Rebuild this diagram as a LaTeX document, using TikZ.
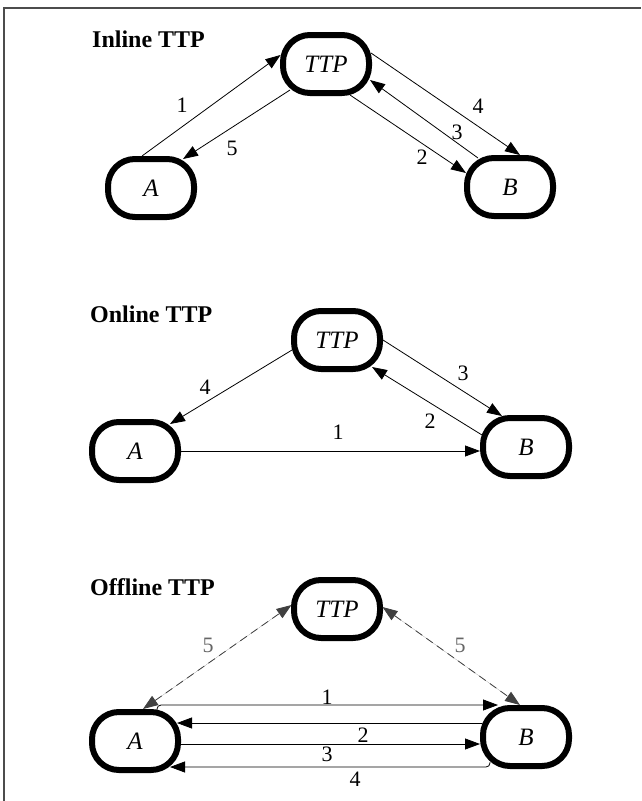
\documentclass[tikz,border=0pt]{standalone}
\usepackage{fontspec}
\setmainfont{Liberation Serif}
\usetikzlibrary{arrows.meta, calc}
\tikzset{
  party/.style={rectangle,draw,rounded corners=27pt,line width=6pt,minimum width=86pt,minimum height=58pt,inner sep=0pt,font=\fontsize{25}{25}\selectfont\itshape},
  heading/.style={anchor=base west,inner sep=0pt,font=\fontsize{24}{24}\selectfont\bfseries},
  num/.style={inner sep=0pt,font=\fontsize{22}{22}\selectfont},
  line/.style={-{Triangle[length=15pt,width=11pt]},line width=0.8pt},
  dline/.style={{Triangle[length=15pt,width=11pt]}-{Triangle[length=15pt,width=11pt]},line width=0.8pt,dash pattern=on 8pt off 5pt,draw=black!75,fill=black!75}
}

\begin{document}
\begin{tikzpicture}[x=1pt,y=-1pt]
\useasboundingbox (0,0) rectangle (641,801);
\draw[line width=1.2pt,black!70] (4,801) -- (4,8) -- (641,8);

% inline
\node[heading] (h1) at (92,47) {Inline TTP};
\node[party] (ttp1) at (326,64) {TTP};
\node[party] (a1) at (151,188) {A};
\node[party] (b1) at (510,187) {B};
\draw[line] ($(a1)+(-9,-32)$) -- ($(ttp1)+(-45.5,-9)$) node[num] (n11) at (182,105) {1};
\draw[line] ($(ttp1)+(-36,26)$) -- ($(a1)+(32,-29)$) node[num] (n15) at (232,148) {5};
\draw[line] ($(ttp1)+(24,31)$) -- ($(b1)+(-44,-14)$) node[num] (n12) at (422,157) {2};
\draw[line] ($(b1)+(-32,-29)$) -- ($(ttp1)+(44,16)$) node[num] (n13) at (457,132) {3};
\draw[line] ($(ttp1)+(45,-11)$) -- ($(b1)+(10,-32)$) node[num] (n14) at (478,106) {4};

% online
\node[heading] (h2) at (90,322) {Online TTP};
\node[party] (ttp2) at (337,340) {TTP};
\node[party] (a2) at (135,451) {A};
\node[party] (b2) at (526,447) {B};
\draw[line] ($(ttp2)+(-45,10)$) -- ($(a2)+(35,-27)$) node[num] (n24) at (205,387) {4};
\draw[line] (a2.east) -- (a2.east -| b2.west) node[num] (n21) at (338,432) {1};
\draw[line] ($(b2)+(-44,-12)$) -- ($(ttp2)+(35,27)$) node[num] (n22) at (430,421) {2};
\draw[line] (ttp2.east) -- ($(b2)+(-24,-31)$) node[num] (n23) at (463,373) {3};

% offline
\node[heading] (h3) at (90,595) {Offline TTP};
\node[party] (ttp3) at (337,609) {TTP};
\node[party] (a3) at (135,741) {A};
\node[party] (b3) at (526,737) {B};
\draw[dline] ($(a3)+(8,-32)$) -- ($(ttp3)+(-45.5,-4)$) node[num,text=black!60] (n35a) at (208,645) {5};
\draw[dline] ($(ttp3)+(45.5,-2)$) -- ($(b3)+(-6,-32)$) node[num,text=black!60] (n35b) at (460,645) {5};
\draw[line,rounded corners=4pt] ($(a3)+(22,-31)$) |- ($(b3)+(-28,-32)$) node[num] (n31) at (327,697) {1};
\draw[line] ($(b3)+(-44.5,-14)$) -- ($(a3)+(42,-18)$) node[num] (n32) at (363,735) {2};
\draw[line] ($(a3)+(46,3)$) -- ($(b3)+(-46,7)$) node[num] (n33) at (327,754) {3};
\draw[line,rounded corners=4pt] ($(b3)+(-36,25)$) |- ($(a3)+(35,26)$) node[num] (n34) at (355,779) {4};
\end{tikzpicture}
\end{document}
